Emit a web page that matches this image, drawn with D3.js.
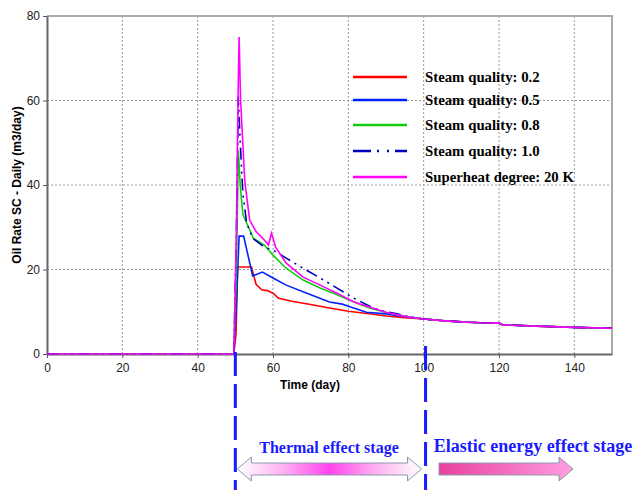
<!DOCTYPE html>
<html>
<head>
<meta charset="utf-8">
<script src="https://cdn.jsdelivr.net/npm/d3@7"></script>
<style>
  body { margin: 0; background: #fff; }
  svg { display: block; }
</style>
</head>
<body>
<svg id="chart" width="633" height="490"></svg>
<script>
// series data: [day, oil rate m3/day]
const tail = [[100, 8.3], [105, 7.9], [110, 7.6], [115, 7.4], [120, 7.3], [121, 6.9], [130, 6.6], [140, 6.3], [150, 6.1]];

const quality02 = [[0, 0], [49.6, 0], [50.2, 5], [50.6, 20.6], [54.3, 20.6], [55.5, 16.5], [57, 15.2], [58.5, 15], [60, 14.4],
  [61.5, 13.2], [65, 12.5], [70, 11.7], [75, 10.9], [80, 10.1], [85, 9.6], [90, 9.0], [95, 8.6]].concat(tail);

const quality05 = [[0, 0], [49.6, 0], [50.2, 10], [51, 27.9], [52.2, 27.9], [54.6, 18.5], [57.2, 19.4], [60, 18], [63.5, 16.3],
  [69, 14.4], [75, 12.3], [78.4, 11.8], [80.6, 11.1], [84.8, 9.9], [90, 9.5], [95, 8.8]].concat(tail);

const quality08 = [[0, 0], [49.6, 0], [50.3, 20], [50.8, 48], [51.3, 40], [52, 33], [53, 31], [54.8, 27.4], [57.7, 25.8], [60, 23.4],
  [63.5, 20.3], [68, 17.5], [72.5, 15.6], [77, 14], [81.5, 12.3], [85.6, 10.9], [90, 9.8], [95, 8.9]].concat(tail);

const quality10 = [[0, 0], [49.6, 0], [50.3, 30], [50.8, 61], [51.3, 50], [52, 38], [53, 31], [54.6, 27.4], [57.7, 25.3], [60, 24.6],
  [63.5, 22.7], [68, 20.3], [72.5, 18], [77, 15.6], [81.5, 13.2], [85, 11.6], [88, 10.4], [90, 10], [93, 9.5], [95, 9]].concat(tail);

const superheat20 = [[0, 0], [49.6, 0], [50.3, 30], [50.7, 60], [51, 75], [51.4, 60], [52.5, 41], [53.8, 31.7], [55.5, 29], [57.7, 27],
  [58.8, 25.8], [59.6, 28.6], [60.7, 25.3], [63.5, 21.5], [68, 18.2], [72.5, 16.3], [77, 14.4], [81.5, 12.3], [85.6, 11.1],
  [90, 9.9], [95, 8.9]].concat(tail);

const seriesNames = ['Steam quality: 0.2', 'Steam quality: 0.5', 'Steam quality: 0.8', 'Steam quality: 1.0', 'Superheat degree: 20 K'];
const seriesData = [quality02, quality05, quality08, quality10, superheat20];
const seriesColors = ['#ff0000', '#0022ff', '#11cc11', '#0000bb', '#ff00ff'];
const seriesDash = [null, null, null, '12,5,2,5,2,5', null];

const xTicks = [0, 20, 40, 60, 80, 100, 120, 140];
const yTicks = [0, 20, 40, 60, 80];
const stageBounds = [50, 100.5];

const svg = d3.select('#chart');
const x = d3.scaleLinear().domain([0, 150]).range([47, 612]);
const y = d3.scaleLinear().domain([0, 80]).range([354, 16]);

// grid
svg.append('g').selectAll('line').data(xTicks.slice(1)).join('line')
  .attr('x1', d => x(d)).attr('x2', d => x(d)).attr('y1', y(80)).attr('y2', y(0))
  .attr('stroke', '#999').attr('stroke-dasharray', '2,2');
svg.append('g').selectAll('line').data(yTicks.slice(1, -1)).join('line')
  .attr('x1', x(0)).attr('x2', x(150)).attr('y1', d => y(d)).attr('y2', d => y(d))
  .attr('stroke', '#999').attr('stroke-dasharray', '2,2');

// frame top / right
svg.append('path')
  .attr('d', `M${x(0)},${y(80)}H${x(150)}V${y(0)}`)
  .attr('fill', 'none').attr('stroke', '#aaa').attr('stroke-width', 2);

// axes
const xAxis = svg.append('g').attr('transform', `translate(0,${y(0)})`)
  .call(d3.axisBottom(x).tickValues(xTicks).tickSize(4).tickSizeOuter(0));
const yAxis = svg.append('g').attr('transform', `translate(${x(0)},0)`)
  .call(d3.axisLeft(y).tickValues(yTicks).tickSize(4).tickSizeOuter(0));
[xAxis, yAxis].forEach(a => {
  a.select('.domain').attr('stroke', '#666').attr('stroke-width', 2);
  a.selectAll('.tick line').attr('stroke', '#555');
  a.selectAll('text').attr('font-family', 'Liberation Sans, Arial').attr('font-size', 12).attr('fill', '#222');
});
xAxis.selectAll('text').attr('dy', '0.9em');

svg.append('text').attr('x', 310).attr('y', 389).attr('text-anchor', 'middle')
  .attr('font-family', 'Liberation Sans, Arial').attr('font-weight', 'bold').attr('font-size', 12)
  .text('Time (day)');
svg.append('text').attr('transform', 'translate(21,185) rotate(-90)').attr('text-anchor', 'middle')
  .attr('font-family', 'Liberation Sans, Arial').attr('font-weight', 'bold').attr('font-size', 12)
  .text('Oil Rate SC - Daily (m3/day)');

// lines
const line = d3.line().x(d => x(d[0])).y(d => y(d[1]));
svg.append('g').selectAll('path').data(seriesData).join('path')
  .attr('d', line)
  .attr('fill', 'none')
  .attr('stroke', (d, i) => seriesColors[i])
  .attr('stroke-width', 1.6)
  .attr('stroke-dasharray', (d, i) => seriesDash[i]);

// legend
const legendY = [77, 100, 125, 151, 177];
const legend = svg.append('g');
legend.selectAll('line').data(seriesNames).join('line')
  .attr('x1', 353).attr('x2', 407)
  .attr('y1', (d, i) => legendY[i]).attr('y2', (d, i) => legendY[i])
  .attr('stroke', (d, i) => seriesColors[i]).attr('stroke-width', 2.5)
  .attr('stroke-dasharray', (d, i) => i === 3 ? '18,6,2,8,2,6' : null);
legend.selectAll('text').data(seriesNames).join('text')
  .attr('x', 425).attr('y', (d, i) => legendY[i] + 5)
  .attr('font-family', 'Liberation Serif, Times New Roman').attr('font-weight', 'bold').attr('font-size', 14.8)
  .text(d => d);

// stage boundaries
svg.append('g').selectAll('line').data(stageBounds).join('line')
  .attr('x1', d => x(d)).attr('x2', d => x(d))
  .attr('y1', (d, i) => i === 0 ? y(0) - 2 : y(0) - 8).attr('y2', 490)
  .attr('stroke', '#1a1aff').attr('stroke-width', 3).attr('stroke-dasharray', '24,8');

// arrows
const defs = svg.append('defs');
const g1 = defs.append('linearGradient').attr('id', 'thermal');
[['0%', '#ffffff'], ['25%', '#ffb0f0'], ['50%', '#ff44ee'], ['75%', '#ffb0f0'], ['100%', '#ffffff']]
  .forEach(s => g1.append('stop').attr('offset', s[0]).attr('stop-color', s[1]));
const g2 = defs.append('linearGradient').attr('id', 'elastic');
[['0%', '#e8409c'], ['100%', '#ff9ee0']]
  .forEach(s => g2.append('stop').attr('offset', s[0]).attr('stop-color', s[1]));

const ay = 469, bodyH = 6, headH = 12, headL = 14;
const l = x(50) + 2, r = x(100.5) - 4;
svg.append('path')
  .attr('d', `M${l},${ay} L${l + headL},${ay - headH} V${ay - bodyH} H${r - headL} V${ay - headH} L${r},${ay}
    L${r - headL},${ay + headH} V${ay + bodyH} H${l + headL} V${ay + headH} Z`)
  .attr('fill', 'url(#thermal)').attr('stroke', '#8a9ab0').attr('stroke-width', 1);
const l2 = 439, r2 = 573;
svg.append('path')
  .attr('d', `M${l2},${ay - bodyH} H${r2 - headL} V${ay - headH} L${r2},${ay} L${r2 - headL},${ay + headH} V${ay + bodyH} H${l2} Z`)
  .attr('fill', 'url(#elastic)').attr('stroke', '#8a9ab0').attr('stroke-width', 1);

svg.append('text').attr('x', 329).attr('y', 453).attr('text-anchor', 'middle')
  .attr('font-family', 'Liberation Serif, Times New Roman').attr('font-weight', 'bold').attr('font-size', 16)
  .attr('fill', '#1a1aff').text('Thermal effect stage');
svg.append('text').attr('x', 533).attr('y', 452).attr('text-anchor', 'middle')
  .attr('font-family', 'Liberation Serif, Times New Roman').attr('font-weight', 'bold').attr('font-size', 18)
  .attr('fill', '#1a1aff').text('Elastic energy effect stage');
</script>
</body>
</html>
